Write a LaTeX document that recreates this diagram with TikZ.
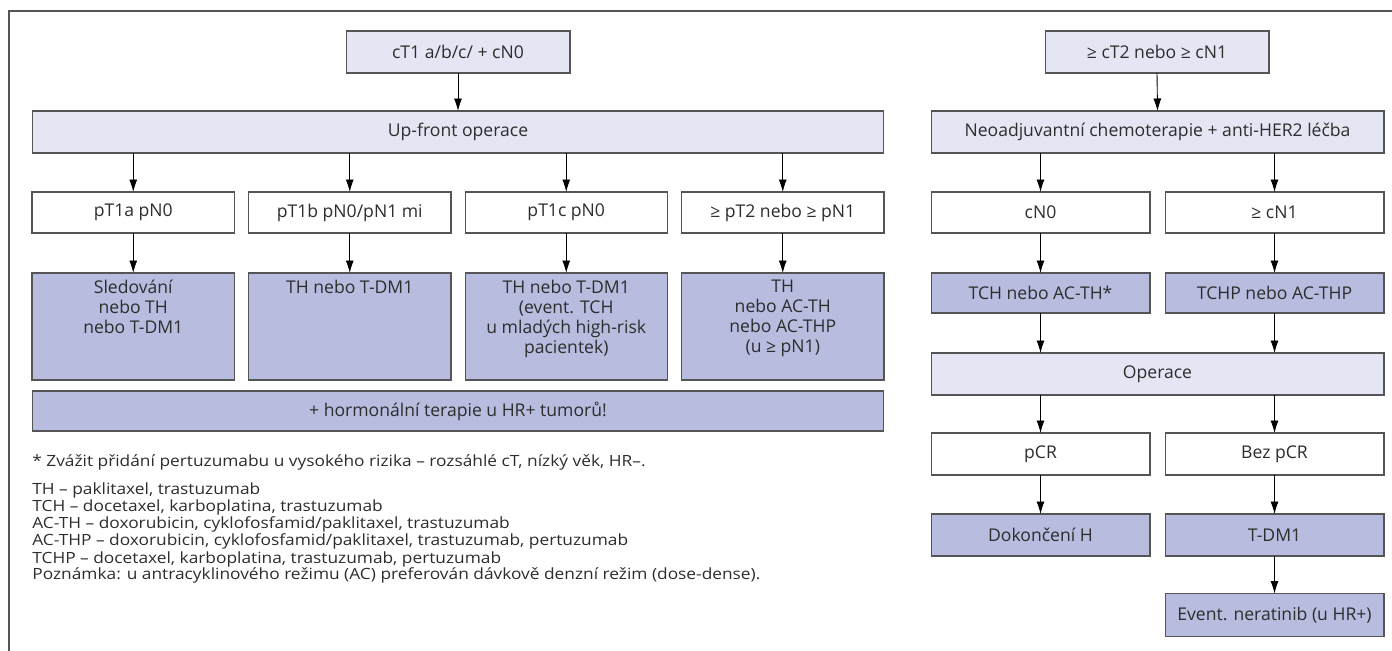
\documentclass[tikz,border=0pt]{standalone}
\usepackage{fontspec}
\setmainfont{Open Sans}
\newfontfamily\notefont[FakeStretch=1.12]{Open Sans}
\usetikzlibrary{arrows.meta, positioning}

\definecolor{boxline}{RGB}{85,85,85}
\definecolor{textgray}{RGB}{45,45,45}
\definecolor{lightfill}{RGB}{228,230,244}
\definecolor{darkfill}{RGB}{184,189,224}

\newcommand{\toptext}[1]{\parbox[c][1.85cm][t]{3.9cm}{\centering #1}}

\tikzset{
  flowbox/.style={draw=boxline, text=textgray, line width=0.6pt, inner sep=0pt, outer sep=0pt,
    align=center, font=\fontsize{10}{11.3}\selectfont},
  lightbox/.style={flowbox, fill=lightfill},
  whitebox/.style={flowbox, fill=white},
  darkbox/.style={flowbox, fill=darkfill},
  flowarrow/.style={-{Latex[length=2.5mm,width=1.6mm]}, line width=0.5pt},
  notetext/.style={inner sep=0pt, text=textgray, align=left, font=\notefont\fontsize{8.8}{8.7}\selectfont},
}

\begin{document}
\begin{tikzpicture}[x=0.02cm, y=-0.02cm]
  \useasboundingbox (0,0) rectangle (1392,651);
  % frame
  \draw[boxline, line width=0.8pt] (1392,11) -- (9,11) -- (9,651);

  % left branch
  \node[lightbox, minimum width=4.48cm, minimum height=0.84cm] (ct1) at (458,52) {cT1 a/b/c/ + cN0};
  \node[lightbox, minimum width=17.04cm, minimum height=0.84cm] (upfront) at (458,132) {Up-front operace};

  \node[whitebox, minimum width=4.05cm, minimum height=0.82cm] (pt1a) at (133.25,212.5) {pT1a pN0};
  \node[whitebox, minimum width=4.05cm, minimum height=0.82cm] (pt1b) at (349.75,212.5) {pT1b pN0/pN1 mi};
  \node[whitebox, minimum width=4.05cm, minimum height=0.82cm] (pt1c) at (566.25,212.5) {pT1c pN0};
  \node[whitebox, minimum width=4.05cm, minimum height=0.82cm] (pt2) at (782.75,212.5) {≥ pT2 nebo ≥ pN1};

  \node[darkbox, minimum width=4.05cm, minimum height=2.14cm] (th1) at (133.25,326.5) {\toptext{Sledování\\nebo TH\\nebo T-DM1}};
  \node[darkbox, minimum width=4.05cm, minimum height=2.14cm] (th2) at (349.75,326.5) {\toptext{TH nebo T-DM1}};
  \node[darkbox, minimum width=4.05cm, minimum height=2.14cm] (th3) at (566.25,326.5) {\toptext{TH nebo T-DM1\\(event. TCH\\u mladých high-risk\\pacientek)}};
  \node[darkbox, minimum width=4.05cm, minimum height=2.14cm] (th4) at (782.75,326.5) {\toptext{TH\\nebo AC-TH\\nebo AC-THP\\(u ≥ pN1)}};

  \node[darkbox, minimum width=17.04cm, minimum height=0.8cm] (hormon) at (458,411) {+ hormonální terapie u HR+ tumorů!};

  \draw[flowarrow] (ct1.south) -- (upfront.north);
  \draw[flowarrow] (upfront.south -| pt1a) -- (pt1a.north);
  \draw[flowarrow] (upfront.south -| pt1b) -- (pt1b.north);
  \draw[flowarrow] (upfront.south -| pt1c) -- (pt1c.north);
  \draw[flowarrow] (upfront.south -| pt2) -- (pt2.north);
  \draw[flowarrow] (pt1a.south) -- (th1.north);
  \draw[flowarrow] (pt1b.south) -- (th2.north);
  \draw[flowarrow] (pt1c.south) -- (th3.north);
  \draw[flowarrow] (pt2.south) -- (th4.north);

  % right branch
  \node[lightbox, minimum width=4.48cm, minimum height=0.84cm] (ct2) at (1157,52) {≥ cT2 nebo ≥ cN1};
  \node[lightbox, minimum width=9.06cm, minimum height=0.84cm] (neoadj) at (1157.5,132) {Neoadjuvantní chemoterapie + anti-HER2 léčba};

  \node[whitebox, minimum width=4.38cm, minimum height=0.82cm] (cn0) at (1040.5,212.5) {cN0};
  \node[whitebox, minimum width=4.38cm, minimum height=0.82cm] (cn1) at (1274.5,212.5) {≥ cN1};

  \node[darkbox, minimum width=4.38cm, minimum height=0.8cm] (tch) at (1040.5,293) {TCH nebo AC-TH*};
  \node[darkbox, minimum width=4.38cm, minimum height=0.8cm] (tchp) at (1274.5,293) {TCHP nebo AC-THP};

  \node[lightbox, minimum width=9.06cm, minimum height=0.84cm] (oper) at (1157.5,374) {Operace};

  \node[whitebox, minimum width=4.38cm, minimum height=0.84cm] (pcr) at (1040.5,454) {pCR};
  \node[whitebox, minimum width=4.38cm, minimum height=0.84cm] (bezpcr) at (1274.5,454) {Bez pCR};

  \node[darkbox, minimum width=4.38cm, minimum height=0.84cm] (dokonc) at (1040.5,535) {Dokončení H};
  \node[darkbox, minimum width=4.38cm, minimum height=0.84cm] (tdm1) at (1274.5,535) {T-DM1};

  \node[darkbox, minimum width=4.38cm, minimum height=0.86cm] (nerat) at (1274.5,615) {Event. neratinib (u HR+)};

  \draw[flowarrow] (ct2.south) -- (neoadj.north);
  \draw[flowarrow] (neoadj.south -| cn0) -- (cn0.north);
  \draw[flowarrow] (neoadj.south -| cn1) -- (cn1.north);
  \draw[flowarrow] (cn0.south) -- (tch.north);
  \draw[flowarrow] (cn1.south) -- (tchp.north);
  \draw[flowarrow] (tch.south) -- (tch.south |- oper.north);
  \draw[flowarrow] (tchp.south) -- (tchp.south |- oper.north);
  \draw[flowarrow] (oper.south -| pcr) -- (pcr.north);
  \draw[flowarrow] (oper.south -| bezpcr) -- (bezpcr.north);
  \draw[flowarrow] (pcr.south) -- (dokonc.north);
  \draw[flowarrow] (bezpcr.south) -- (tdm1.north);
  \draw[flowarrow] (tdm1.south) -- (nerat.north);

  % notes
  \node[notetext, anchor=west] (star) at (32,462) {* Zvážit přidání pertuzumabu u vysokého rizika – rozsáhlé cT, nízký věk, HR–.};
  \node[notetext, anchor=north west] (abbr) at (32,482) {TH – paklitaxel, trastuzumab\\
    TCH – docetaxel, karboplatina, trastuzumab\\
    AC-TH – doxorubicin, cyklofosfamid/paklitaxel, trastuzumab\\
    AC-THP – doxorubicin, cyklofosfamid/paklitaxel, trastuzumab, pertuzumab\\
    TCHP – docetaxel, karboplatina, trastuzumab, pertuzumab};
  \node[notetext, anchor=west] (note) at (32,575) {Poznámka: u antracyklinového režimu (AC) preferován dávkově denzní režim (dose-dense).};
\end{tikzpicture}
\end{document}
